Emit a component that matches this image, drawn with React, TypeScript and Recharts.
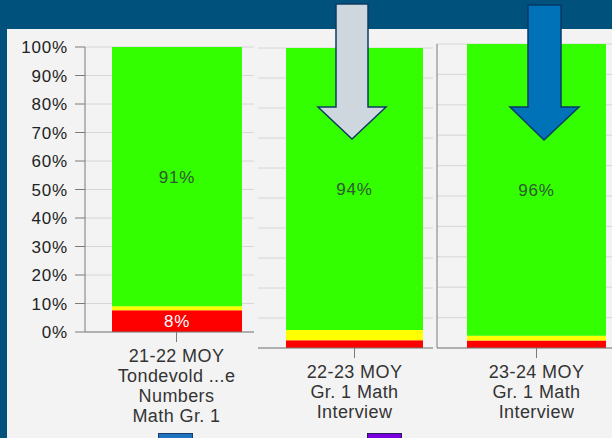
import React from 'react'
import { BarChart, Bar, XAxis, YAxis, CartesianGrid, LabelList } from 'recharts'

// category labels, one array of lines per column
const categoryLines = [
  ['21-22 MOY', 'Tondevold ...e', 'Numbers', 'Math Gr. 1'],
  ['22-23 MOY', 'Gr. 1 Math', 'Interview'],
  ['23-24 MOY', 'Gr. 1 Math', 'Interview'],
]
const redPct = [7.6, 2.6, 2.5]
const yellowPct = [1.4, 3.4, 1.5]
const greenPct = [91, 94, 96]
const yTicks = [0, 10, 20, 30, 40, 50, 60, 70, 80, 90, 100]

const FONT = '"Liberation Sans", Arial, sans-serif'
const PANEL = '#f3f3f3'
const GRID = '#d6d6d6'
const AXIS = '#7a7a7a'

const rows = categoryLines.map((lines, i) => ({
  label: lines.join('\n'),
  red: redPct[i],
  yellow: yellowPct[i],
  green: greenPct[i],
}))

function CatTick({ x, y, payload }: { x?: number; y?: number; payload?: { value: string } }) {
  const lines = String(payload?.value ?? '').split('\n')
  return (
    <text x={x} y={y} textAnchor="middle" fontFamily={FONT} fontSize={18} letterSpacing={0.4} fill="#333">
      {lines.map((l, i) => (
        <tspan key={i} x={x} dy={20}>
          {l}
        </tspan>
      ))}
    </text>
  )
}

const pct = (v: unknown) => {
  const n = Number(v)
  return n >= 5 ? `${Math.round(n)}%` : ''
}

// grid rows for the columns whose y axis has no tick labels
const gridRows = ({ offset }: any) =>
  offset ? yTicks.map((t) => offset.top + offset.height * (1 - t / 100)) : []

function Column({
  idx,
  left,
  width,
  top,
  plotH,
  xAxisH,
  yAxisW,
  barSize,
  showTicks,
  showYLine,
}: {
  idx: number
  left: number
  width: number
  top: number
  plotH: number
  xAxisH: number
  yAxisW: number
  barSize: number
  showTicks: boolean
  showYLine: boolean
}) {
  const h = 409
  const bottom = h - top - plotH - xAxisH
  return (
    <div style={{ position: 'absolute', left, top: 29, width, height: h, background: PANEL }}>
      <BarChart
        width={width}
        height={h}
        data={[rows[idx]]}
        margin={{ top, right: 0, left: 0, bottom }}
      >
        {showTicks ? (
          <CartesianGrid stroke={GRID} vertical={false} />
        ) : (
          <CartesianGrid stroke={GRID} vertical={false} horizontalCoordinatesGenerator={gridRows} />
        )}
        <XAxis
          dataKey="label"
          height={xAxisH}
          tickSize={10}
          tickMargin={0}
          interval={0}
          stroke={AXIS}
          tickLine={{ stroke: AXIS }}
          tick={<CatTick />}
        />
        <YAxis
          width={yAxisW}
          domain={[0, 100]}
          ticks={yTicks}
          interval={0}
          axisLine={showYLine ? { stroke: AXIS } : false}
          tickLine={showTicks ? { stroke: AXIS } : false}
          tickSize={showTicks ? 10 : 0}
          tickMargin={showTicks ? 7 : 0}
          tick={showTicks ? { fontFamily: FONT, fontSize: 17, fill: '#222', letterSpacing: 0.8 } : false}
          tickFormatter={(v: number) => `${v}%`}
        />
        <Bar dataKey="red" stackId="s" fill="#ff0000" barSize={barSize} isAnimationActive={false}>
          <LabelList dataKey="red" position="center" formatter={pct} fill="#ffffff" fontFamily={FONT} fontSize={17} letterSpacing={0.6} />
        </Bar>
        <Bar dataKey="yellow" stackId="s" fill="#ffff00" barSize={barSize} isAnimationActive={false} />
        <Bar dataKey="green" stackId="s" fill="#33ff00" barSize={barSize} isAnimationActive={false}>
          <LabelList dataKey="green" position="center" formatter={pct} fill="#2f5a2f" fontFamily={FONT} fontSize={17} letterSpacing={0.8} />
        </Bar>
      </BarChart>
    </div>
  )
}

export default function App() {
  return (
    <div
      style={{
        position: 'absolute',
        left: 0,
        top: 0,
        width: 612,
        height: 438,
        overflow: 'hidden',
        background: '#00517b',
        fontFamily: FONT,
      }}
    >
      <div style={{ position: 'absolute', left: 7, top: 29, width: 605, height: 409, background: PANEL }} />
      <Column idx={0} left={7} width={261} top={18} plotH={285} xAxisH={100} yAxisW={78} barSize={130} showTicks showYLine />
      <Column idx={1} left={254} width={197} top={19} plotH={300} xAxisH={90} yAxisW={4} barSize={137} showTicks={false} showYLine={false} />
      <Column idx={2} left={433} width={203} top={15} plotH={304} xAxisH={90} yAxisW={4} barSize={139} showTicks={false} showYLine />

      {/* legend swatches cut off at the bottom edge */}
      <div style={{ position: 'absolute', left: 158, top: 433, width: 33, height: 12, background: '#1f72bd', border: '1px solid #1b3d6b' }} />
      <div style={{ position: 'absolute', left: 367, top: 433, width: 33, height: 12, background: '#7a00e0', border: '1px solid #2a1a5a' }} />

      {/* arrows overlay */}
      <svg width={612} height={438} style={{ position: 'absolute', left: 0, top: 0, pointerEvents: 'none' }}>
        <polygon
          points="336,4 368,4 368,107 386,107 352,139 318,107 336,107"
          fill="#ced6de"
          stroke="#0d3b66"
          strokeWidth={1.5}
        />
        <polygon
          points="528,5 561,5 561,107 579,107 544,140 510,107 528,107"
          fill="#0072b8"
          stroke="#06396a"
          strokeWidth={1.5}
        />
      </svg>
    </div>
  )
}
